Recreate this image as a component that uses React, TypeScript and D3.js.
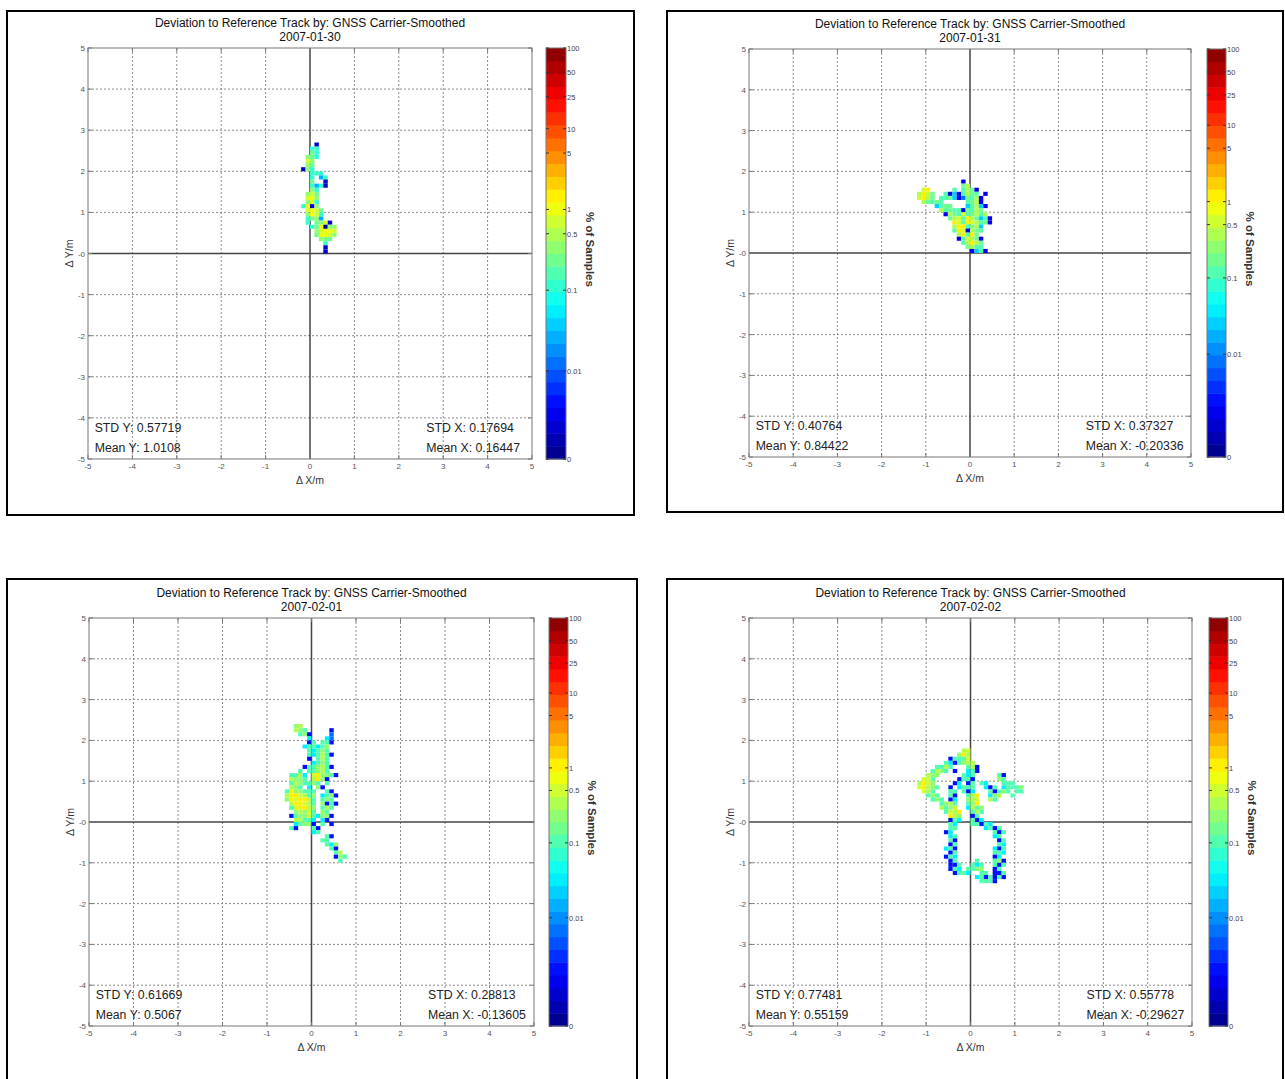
import React from 'react';
import * as d3 from 'd3';

const TITLE = 'Deviation to Reference Track by: GNSS Carrier-Smoothed';
const DATES = ['2007-01-30', '2007-01-31', '2007-02-01', '2007-02-02'];
const STD_Y = ['0.57719', '0.40764', '0.61669', '0.77481'];
const MEAN_Y = ['1.0108', '0.84422', '0.5067', '0.55159'];
const STD_X = ['0.17694', '0.37327', '0.28813', '0.55778'];
const MEAN_X = ['0.16447', '-0.20336', '-0.13605', '-0.29627'];

const AXIS_TICKS = [-5, -4, -3, -2, -1, 0, 1, 2, 3, 4, 5];
const CBAR_TICKS = [0.01, 0.1, 0.5, 1, 5, 10, 25, 50, 100];
const CBAR_LABELS = ['0.01', '0.1', '0.5', '1', '5', '10', '25', '50', '100'];
// lowest value ("0") at the foot of each panel's colour bar
const CBAR_MIN = [0.00081, 0.00045, 0.00036, 0.00036];
const CBAR_MAX = 100;
const CBAR_LEVELS = 32;

// percent-of-samples value per cell code
const LEVEL: Record<string, number> = {
  k: 0.0009, b: 0.002, n: 0.008, t: 0.03, c: 0.1, a: 0.2, g: 0.35, l: 0.6, y: 1.1,
};
const BIN = 0.1;

// each grid: [x of first column, y of top row's lower edge], rows from top
const GRID1_ORIGIN = [-0.2, 2.6];
const GRID1 = [
  '...b.....',
  '..cc.....',
  '..ac.....',
  '.gac.....',
  '.lg......',
  '.ga......',
  'bgc......',
  '..ccc....',
  '..c.tc...',
  '..a..b...',
  '..ctcb...',
  '..gc.....',
  '.gla.....',
  '.lyg.....',
  '.glc.....',
  'cybg.....',
  '.lyla....',
  '.gylc....',
  '.cagt....',
  '.c.aglb..',
  '..caykgg.',
  '...glyyl.',
  '...ayylg.',
  '....gaa..',
  '.....c...',
  '.....b...',
  '.....b...',
];

const GRID2_ORIGIN = [-1.2, 1.7];
const GRID2 = [
  '..........b......',
  '..........ag.....',
  '.ly.....c.cgab...',
  'gyla..cbtbcgac.b.',
  'lyga.ccatbnacgb..',
  '.gacac.....cagb..',
  '....tcaa...tcgtb.',
  '.....gcaccbacga..',
  '......bgaclcagcg.',
  '.......aglcygatcb',
  '........ylcylgcab',
  '........gyycagt..',
  '........cylbgac..',
  '.........gycya...',
  '.........bclgab..',
  '..........cgyga..',
  '...........agcc..',
  '............btcb.',
];

const GRID3_ORIGIN = [-0.6, 2.3];
const GRID3 = [
  '..ag..........',
  '..gac.....b...',
  '...cab....n...',
  '.....t...tn...',
  '.....bc.ccb...',
  '....tcctca....',
  '.....ctcac....',
  '.....ctcgcb...',
  '.....b.cgc....',
  '......tcac....',
  '....bccagcb...',
  '...c.ccagc....',
  '.ccgt.lyaacb..',
  '.gaac.gyab....',
  '.cgaccac.c....',
  '.gac.t.ab.....',
  'cyaaccc..cb...',
  'gyylgca.tcab..',
  'aylyygc.cac...',
  '.gyylgc.abcb..',
  '.clyyga.cgc...',
  '..agalc.ac....',
  '.bcaalctaab...',
  '..ggcct.tb....',
  '..tcaab.c.b...',
  '.cb...cb......',
  '......tc......',
  '.........cb...',
  '........cc....',
  '.........cta..',
  '..........cb..',
  '...........cg.',
  '...........bac',
  '............c.',
];

const GRID4_ORIGIN = [-1.3, 1.7];
const GRID4 = [
  '...........gl............',
  '..........ayg............',
  '........bcccl............',
  '.......ctbcagg...........',
  '.....ccgc...cgb..........',
  '....cgac.b..tcb..........',
  '...gaa.....ctc.....cb....',
  '..llc.....bccb.....ac....',
  '.gyla....bt.bc.ct...ccc..',
  '.lygac..b.tccc..tbc.tccca',
  '..lgc...cc.cbt...cbcac.cc',
  '...cac..cb..cgy..tag..c..',
  '....cac.bt..agl..gc......',
  '......cagc..cay..........',
  '......gcal..tgca.........',
  '.......clgy..cgc.........',
  '........yga..bc..........',
  '........bct..cbt.........',
  '........ct...ccbct.......',
  '........cc......tcbc.....',
  '.......bt.........cbc....',
  '........tc........tc.....',
  '........cb.........bc....',
  '........bc.........ct....',
  '.......tcb........tbc....',
  '........bc........cct....',
  '.......bct........bt.....',
  '........bc....c...cab....',
  '........bbc..ctc..cbc....',
  '........bct.ccaa..bc.....',
  '.........bcct..cc.bbc....',
  '..............tcbcbcb....',
  '...............cccb......',
];

const GRIDS = [GRID1, GRID2, GRID3, GRID4];
const ORIGINS = [GRID1_ORIGIN, GRID2_ORIGIN, GRID3_ORIGIN, GRID4_ORIGIN];

// layout (pixels)
const LAYOUT = [
  { box: [7, 11, 627, 504], l: 88, r: 532, t: 48, b: 459, cx: 546, cw: 20 },
  { box: [667, 11, 616, 501], l: 749, r: 1191, t: 49, b: 457, cx: 1207, cw: 19 },
  { box: [7, 579, 630, 520], l: 89, r: 534, t: 618, b: 1026, cx: 549, cw: 19 },
  { box: [667, 579, 616, 520], l: 749, r: 1192, t: 618, b: 1026, cx: 1209, cw: 19 },
];

const FONT = "Arial, 'Liberation Sans', Helvetica, sans-serif";

const jet = d3
  .scaleLinear<string>()
  .domain([0, 0.125, 0.375, 0.625, 0.875, 1])
  .range(['#000080', '#0000ff', '#00ffff', '#ffff00', '#ff0000', '#800000'])
  .interpolate(d3.interpolateRgb)
  .clamp(true);

function parseGrid(rows: string[], origin: number[]) {
  const cells: { x: number; y: number; v: number }[] = [];
  rows.forEach((row, ri) => {
    for (let ci = 0; ci < row.length; ci++) {
      const ch = row[ci];
      if (LEVEL[ch] !== undefined) {
        cells.push({ x: origin[0] + ci * BIN, y: origin[1] - ri * BIN, v: LEVEL[ch] });
      }
    }
  });
  return cells;
}

function Panel({ i }: { i: number }) {
  const L = LAYOUT[i];
  const x = d3.scaleLinear().domain([-5, 5]).range([L.l, L.r]);
  const y = d3.scaleLinear().domain([-5, 5]).range([L.b, L.t]);
  const cy = d3.scaleLog().domain([CBAR_MIN[i], CBAR_MAX]).range([L.b, L.t]);
  const frac = d3.scaleLog().domain([CBAR_MIN[i], CBAR_MAX]).range([0, 1]).clamp(true);
  const colorOf = (v: number) => {
    const idx = Math.min(CBAR_LEVELS - 1, Math.max(0, Math.floor(frac(v) * CBAR_LEVELS)));
    return jet((idx + 0.5) / CBAR_LEVELS);
  };
  const cells = parseGrid(GRIDS[i], ORIGINS[i]);
  const midX = (L.l + L.r) / 2;
  const bandH = (L.b - L.t) / CBAR_LEVELS;
  const ticks = [CBAR_MIN[i], ...CBAR_TICKS];
  const labels = ['0', ...CBAR_LABELS];
  return (
    <g>
      <rect x={L.box[0]} y={L.box[1]} width={L.box[2]} height={L.box[3]} fill="#fff" stroke="#000" strokeWidth={2} />
      <text x={midX} y={L.t - 21} textAnchor="middle" fontSize={12} fill="#111">{TITLE}</text>
      <text x={midX} y={L.t - 7} textAnchor="middle" fontSize={12} fill="#111">{DATES[i]}</text>
      {/* grid */}
      {AXIS_TICKS.filter((t) => t !== 0 && Math.abs(t) !== 5).map((t) => (
        <g key={'g' + t}>
          <line x1={x(t)} x2={x(t)} y1={L.t} y2={L.b} stroke="#8a8a8a" strokeDasharray="2,2" />
          <line x1={L.l} x2={L.r} y1={y(t)} y2={y(t)} stroke="#8a8a8a" strokeDasharray="2,2" />
        </g>
      ))}
      <line x1={x(0)} x2={x(0)} y1={L.t} y2={L.b} stroke="#444" strokeWidth={1.5} />
      <line x1={L.l} x2={L.r} y1={y(0)} y2={y(0)} stroke="#444" strokeWidth={1.5} />
      {/* cells */}
      {cells.map((c, k) => (
        <rect
          key={k}
          x={x(c.x)}
          y={y(c.y + BIN)}
          width={x(c.x + BIN) - x(c.x)}
          height={y(c.y) - y(c.y + BIN)}
          fill={colorOf(c.v)}
        />
      ))}
      <rect x={L.l} y={L.t} width={L.r - L.l} height={L.b - L.t} fill="none" stroke="#777" />
      {AXIS_TICKS.map((t) => (
        <g key={'t' + t}>
          <line x1={x(t)} x2={x(t)} y1={L.b} y2={L.b - 4} stroke="#777" />
          <line x1={x(t)} x2={x(t)} y1={L.t} y2={L.t + 4} stroke="#777" />
          <line x1={L.l} x2={L.l + 4} y1={y(t)} y2={y(t)} stroke="#777" />
          <line x1={L.r} x2={L.r - 4} y1={y(t)} y2={y(t)} stroke="#777" />
          <text x={x(t)} y={L.b + 10} textAnchor="middle" fontSize={8} fill="#555">{t}</text>
          <text x={L.l - 3} y={y(t) + 3} textAnchor="end" fontSize={8} fill="#555">{t === 0 ? '-0' : t}</text>
        </g>
      ))}
      <text x={midX} y={L.b + 25} textAnchor="middle" fontSize={10.5} fill="#333">Δ X/m</text>
      <text transform={`translate(${L.l - 15},${y(0)}) rotate(-90)`} textAnchor="middle" fontSize={10.5} fill="#333">Δ Y/m</text>
      {/* stats */}
      <text x={x(-4.85)} y={y(-4.25) + 4} fontSize={12.3} fill="#222">{'STD Y: ' + STD_Y[i]}</text>
      <text x={x(-4.85)} y={y(-4.73) + 4} fontSize={12.3} fill="#222">{'Mean Y: ' + MEAN_Y[i]}</text>
      <text x={x(2.62)} y={y(-4.25) + 4} fontSize={12.3} fill="#222">{'STD X: ' + STD_X[i]}</text>
      <text x={x(2.62)} y={y(-4.73) + 4} fontSize={12.3} fill="#222">{'Mean X: ' + MEAN_X[i]}</text>
      {/* colorbar */}
      {d3.range(CBAR_LEVELS).map((k) => (
        <rect key={'cb' + k} x={L.cx} y={L.b - (k + 1) * bandH} width={L.cw} height={bandH + 0.5} fill={jet((k + 0.5) / CBAR_LEVELS)} />
      ))}
      <rect x={L.cx} y={L.t} width={L.cw} height={L.b - L.t} fill="none" stroke="#777" />
      {ticks.map((t, k) => (
        <g key={'ct' + k}>
          <line x1={L.cx} x2={L.cx + 3} y1={cy(t)} y2={cy(t)} stroke="#333" />
          <line x1={L.cx + L.cw} x2={L.cx + L.cw - 3} y1={cy(t)} y2={cy(t)} stroke="#333" />
          <text x={L.cx + L.cw + 1} y={cy(t) + 3} fontSize={7.5} fill="#444">{labels[k]}</text>
        </g>
      ))}
      <text transform={`translate(${L.cx + L.cw + 20},${(L.t + L.b) / 2 - 4}) rotate(90)`} textAnchor="middle" fontSize={11.5} fontWeight="bold" fill="#333">% of Samples</text>
    </g>
  );
}

export default function App() {
  return (
    <svg
      width={1285}
      height={1079}
      style={{ position: 'absolute', left: 0, top: 0, background: '#fff' }}
      fontFamily={FONT}
    >
      <rect width={1285} height={1079} fill="#fff" />
      {[0, 1, 2, 3].map((i) => (
        <Panel key={i} i={i} />
      ))}
    </svg>
  );
}
